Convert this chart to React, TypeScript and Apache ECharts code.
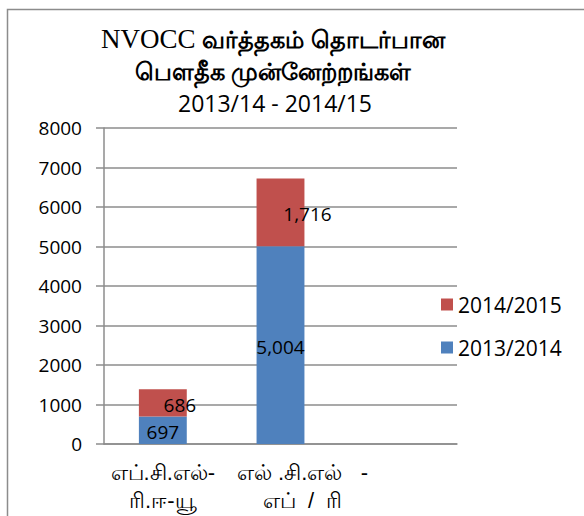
import React, { useEffect, useRef } from "react";
import * as echarts from "echarts";

const categories = ["எப்.சி.எல்-\nரி.ஈ-யூ", "எல் .சி.எல்   -\nஎப்  /  ரி", ""];
const values2013 = [697, 5004, null];
const values2014 = [686, 1716, null];
const seriesNames = ["2013/2014", "2014/2015"];
const yTicks = { min: 0, max: 8000, interval: 1000 };

const redLabelShift = [17, 27, 0];
const catLabelPadLeft = [0, 44, 0];

export default function App() {
  const ref = useRef<HTMLDivElement>(null);
  useEffect(() => {
    if (!ref.current) return;
    const chart = echarts.init(ref.current, null, { renderer: "svg" });
    const fmt = (p: any) => (p.value == null ? "" : Number(p.value).toLocaleString("en-US"));
    const labelFont = { fontFamily: "'Open Sans', sans-serif", fontSize: 19, color: "#000" };
    chart.setOption({
      animation: false,
      backgroundColor: "#fff",
      graphic: [
        {
          type: "rect",
          shape: { x: 7.5, y: 9.5, width: 700, height: 700 },
          style: { fill: "none", stroke: "#8c8c8c", lineWidth: 1.5 },
          silent: true,
        },
        {
          type: "text",
          x: 273,
          y: 39,
          style: {
            text: "{a|NVOCC}  {b|வர்த்தகம் தொடர்பான}",
            rich: {
              a: { fontFamily: "'Liberation Serif', serif", fontSize: 27, fill: "#000" },
              b: { fontFamily: "sans-serif", fontSize: 24, fill: "#000", fontWeight: "bold" },
            },
            align: "center",
            verticalAlign: "middle",
          },
        },
        {
          type: "text",
          x: 273,
          y: 71,
          style: {
            text: "பௌதீக முன்னேற்றங்கள்",
            fontFamily: "sans-serif",
            fontSize: 24,
            fontWeight: "bold",
            fill: "#000",
            align: "center",
            verticalAlign: "middle",
          },
        },
        {
          type: "text",
          x: 275,
          y: 103,
          style: {
            text: "2013/14 - 2014/15",
            fontFamily: "'Open Sans', sans-serif",
            fontSize: 23,
            fill: "#000",
            align: "center",
            verticalAlign: "middle",
          },
        },
      ],
      legend: {
        orient: "vertical",
        left: 436,
        top: 289,
        itemGap: 22,
        itemWidth: 12,
        itemHeight: 12,
        icon: "rect",
        data: [seriesNames[1], seriesNames[0]],
        textStyle: { fontFamily: "'Open Sans', sans-serif", fontSize: 21, color: "#000" },
      },
      grid: { left: 104, right: 127, top: 128, bottom: 72, containLabel: false },
      xAxis: {
        type: "category",
        data: categories.map((c, i) => ({
          value: c,
          textStyle: { padding: [0, 0, 0, catLabelPadLeft[i]] },
        })),
        axisLine: { lineStyle: { color: "#8c8c8c", width: 1.5 } },
        axisTick: { show: false },
        axisLabel: {
          interval: 0,
          margin: 14,
          fontFamily: "sans-serif",
          fontSize: 22,
          color: "#000",
          lineHeight: 28,
        },
      },
      yAxis: {
        type: "value",
        min: yTicks.min,
        max: yTicks.max,
        interval: yTicks.interval,
        axisLine: { show: true, lineStyle: { color: "#8c8c8c", width: 1.5 } },
        axisTick: { show: true, length: 8, lineStyle: { color: "#8c8c8c", width: 1.5 } },
        splitLine: { lineStyle: { color: "#8c8c8c", width: 1.5 } },
        axisLabel: {
          margin: 22,
          formatter: (v: number) => String(v),
          fontFamily: "'Open Sans', sans-serif",
          fontSize: 19,
          color: "#000",
        },
      },
      series: [
        {
          name: seriesNames[0],
          type: "bar",
          stack: "s",
          barWidth: "40.7%",
          itemStyle: { color: "#4F81BD" },
          data: values2013,
          label: { show: true, position: "inside", formatter: fmt, ...labelFont, offset: [0, 2] },
        },
        {
          name: seriesNames[1],
          type: "bar",
          stack: "s",
          itemStyle: { color: "#C0504D" },
          data: values2014.map((v, i) => ({
            value: v,
            label: { offset: [redLabelShift[i], 2] },
          })),
          label: { show: true, position: "inside", formatter: fmt, ...labelFont },
        },
      ],
    });
    return () => chart.dispose();
  }, []);
  return (
    <div
      ref={ref}
      style={{ position: "fixed", left: 0, top: 0, width: 584, height: 516 }}
    />
  );
}
